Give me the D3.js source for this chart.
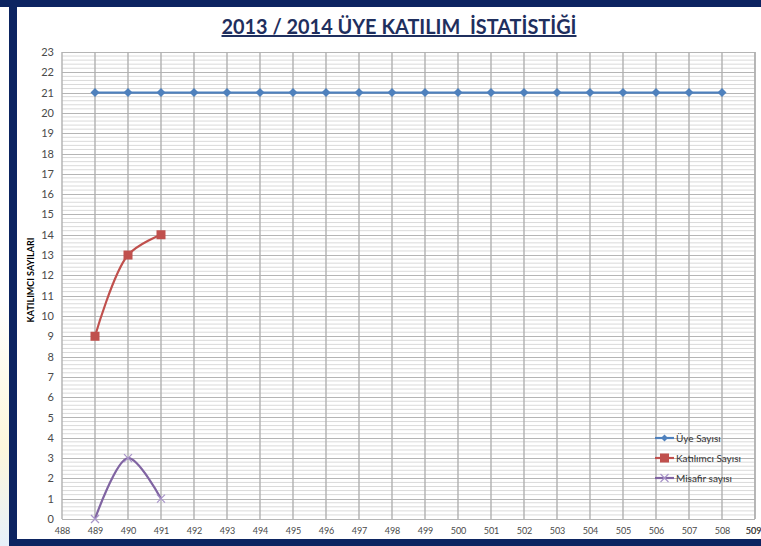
<!DOCTYPE html>
<html><head><meta charset="utf-8">
<script src="https://cdn.jsdelivr.net/npm/d3@7"></script>
<style>html,body{margin:0;padding:0;background:#fff;}svg{display:block;}</style>
</head><body>
<svg id="c" width="761" height="546"></svg>
<script>
const xTicks = d3.range(488, 510);
const yTicks = d3.range(0, 24);
const uyeX = d3.range(489, 509);
const uyeY = [21,21,21,21,21,21,21,21,21,21,21,21,21,21,21,21,21,21,21,21];
const katX = [489, 490, 491];
const katY = [9, 13, 14];
const misX = [489, 490, 491];
const misY = [0, 3, 1];
const seriesNames = ["Üye Sayısı", "Katılımcı Sayısı", "Misafir sayısı"];
const title = "2013 / 2014 ÜYE KATILIM  İSTATİSTİĞİ";
const yTitle = "KATILIMCI SAYILARI";

const svg = d3.select("#c");
const W = 761, H = 546;
const defs = svg.append("defs");
const lg = defs.append("linearGradient").attr("id","bg").attr("x1",0).attr("y1",0).attr("x2",0).attr("y2",1);
lg.append("stop").attr("offset","0%").attr("stop-color","#ffffff");
lg.append("stop").attr("offset","60%").attr("stop-color","#fdf7dc");
lg.append("stop").attr("offset","100%").attr("stop-color","#e6f0fa");
svg.append("rect").attr("x",0).attr("y",300).attr("width",9).attr("height",246).attr("fill","url(#bg)");
svg.append("rect").attr("x",0).attr("y",0).attr("width",W).attr("height",7).attr("fill","#0c2461");
svg.append("rect").attr("x",9).attr("y",0).attr("width",8).attr("height",H).attr("fill","#0c2461");
svg.append("rect").attr("x",9).attr("y",539).attr("width",W-9).attr("height",7).attr("fill","#0c2461");

const x = d3.scaleLinear().domain([488, 509]).range([62, 755]);
const y = d3.scaleLinear().domain([0, 23]).range([519, 52]);

const g = svg.append("g");
const minor = d3.range(0, 23*5+1).map(i => i/5).filter(v => Math.abs(v - Math.round(v)) > 1e-6);
g.append("g").selectAll("line").data(minor).join("line")
  .attr("x1", x(488)).attr("x2", x(509))
  .attr("y1", d => y(d)).attr("y2", d => y(d))
  .attr("stroke", "#dadada").attr("stroke-width", 1);
g.append("g").selectAll("line").data(yTicks).join("line")
  .attr("x1", x(488)).attr("x2", x(509))
  .attr("y1", d => Math.round(y(d))+0.5).attr("y2", d => Math.round(y(d))+0.5)
  .attr("stroke", "#b5b5b5").attr("stroke-width", 1);
g.append("g").selectAll("line").data(xTicks.concat([509])).join("line")
  .attr("x1", d => x(d)).attr("x2", d => x(d))
  .attr("y1", y(23)).attr("y2", y(0))
  .attr("stroke", "#b0b0b0").attr("stroke-width", 1.4);

const font = "Lato, 'Open Sans', sans-serif";
const yAxis = d3.axisLeft(y).tickValues(yTicks).tickSize(0).tickPadding(8);
const ya = svg.append("g").attr("transform", `translate(${x(488)},0)`).call(yAxis);
ya.select(".domain").remove();
ya.selectAll("text").attr("font-family",font).attr("font-size", 11).attr("fill","#4a4a4a");

const xAxis = d3.axisBottom(x).tickValues(xTicks.concat([509])).tickSize(0).tickPadding(9);
const xa = svg.append("g").attr("transform", `translate(0,${y(0)})`).call(xAxis);
xa.select(".domain").remove();
xa.selectAll("text").attr("font-family",font).attr("font-size", 9).attr("fill","#4a4a4a");
xa.selectAll(".tick").filter(d => d === 509).select("text").attr("text-anchor","end").attr("x", 6);

svg.append("text").attr("x", 399).attr("y", 34).attr("text-anchor","middle")
  .attr("font-family",font).attr("font-weight","bold").attr("font-size", 20)
  .attr("fill","#1f2f5e").attr("text-decoration","underline").attr("textLength", 355)
  .attr("lengthAdjust","spacingAndGlyphs").style("white-space","pre").text(title);
svg.append("text").attr("transform", `translate(34,280) rotate(-90)`).attr("text-anchor","middle")
  .attr("font-family",font).attr("font-weight","bold").attr("font-size", 9)
  .attr("fill","#000").text(yTitle);

const colors = ["#4f81bd", "#c0504d", "#8064a2"];
const line = d3.line().x(d => x(d[0])).y(d => y(d[1]));
const smooth = d3.line().x(d => x(d[0])).y(d => y(d[1])).curve(d3.curveCatmullRom.alpha(0.5));
const uye = uyeX.map((v,i) => [v, uyeY[i]]);
const kat = katX.map((v,i) => [v, katY[i]]);
const mis = misX.map((v,i) => [v, misY[i]]);

svg.append("path").datum(uye).attr("d", line).attr("fill","none").attr("stroke",colors[0]).attr("stroke-width",2.2);
svg.append("path").datum(kat).attr("d", smooth).attr("fill","none").attr("stroke",colors[1]).attr("stroke-width",2.2);
svg.append("path").datum(mis).attr("d", smooth).attr("fill","none").attr("stroke",colors[2]).attr("stroke-width",2.2);

function diamond(sel, cx, cy, c, r){ r = r || 4.5; sel.append("path").attr("d", `M${cx},${cy-r}L${cx+r},${cy}L${cx},${cy+r}L${cx-r},${cy}Z`).attr("fill",c); }
function square(sel, cx, cy, c){ sel.append("rect").attr("x",cx-4.5).attr("y",cy-4.5).attr("width",9).attr("height",9).attr("fill",c); }
function cross(sel, cx, cy, c){ sel.append("path").attr("d", `M${cx-4},${cy-4}L${cx+4},${cy+4}M${cx-4},${cy+4}L${cx+4},${cy-4}`).attr("stroke","#a894c9").attr("stroke-width",1.2); }

const mk = svg.append("g");
uye.forEach(d => diamond(mk, x(d[0]), y(d[1]), colors[0]));
kat.forEach(d => square(mk, x(d[0]), y(d[1]), colors[1]));
mis.forEach(d => cross(mk, x(d[0]), y(d[1]), colors[2]));

const lgd = svg.append("g");
seriesNames.forEach((n, i) => {
  const ly = 438 + i*20;
  lgd.append("line").attr("x1",655).attr("x2",674).attr("y1",ly).attr("y2",ly).attr("stroke",colors[i]).attr("stroke-width",2.2);
  if (i === 0) diamond(lgd, 664.5, ly, colors[0], 3.5);
  else if (i === 1) square(lgd, 664.5, ly, colors[1]);
  else cross(lgd, 664.5, ly, colors[2]);
  lgd.append("text").attr("x",676).attr("y",ly+3.5).attr("font-family",font)
    .attr("font-size",10).attr("fill","#333").text(n);
});
</script>
</body></html>
